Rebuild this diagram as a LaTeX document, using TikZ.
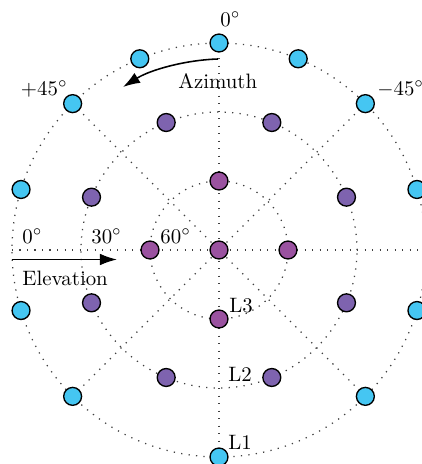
\documentclass[tikz,border=0pt]{standalone}
\usetikzlibrary{arrows.meta,backgrounds}
\definecolor{cyanN}{HTML}{45C6F2}
\definecolor{violN}{HTML}{7E63AF}
\definecolor{magN}{HTML}{9A52A0}
\begin{document}
\begin{tikzpicture}[x=0.48pt,y=0.48pt,
  dotnode/.style={circle,draw=black,line width=0.65pt,minimum size=8.6pt,inner sep=0pt},
  outerN/.style={dotnode,fill=cyanN},
  midN/.style={dotnode,fill=violN},
  innerN/.style={dotnode,fill=magN},
  gridline/.style={dash pattern=on 0.6pt off 3pt,line width=0.6pt,black!75},
  arr/.style={line width=0.75pt,-{Latex[length=8.2pt,width=5.6pt]}},
  lbl/.style={inner sep=0pt,anchor=base west},
  lblr/.style={inner sep=0pt,anchor=base east}]
\useasboundingbox (0,0) rectangle (422,464);
\clip (0,0) rectangle (422,464);
\coordinate (C) at (219,214);
% nodes
\node[innerN] (c0) at (C) {};
\foreach \a/\n in {0/i1,90/i2,180/i3,270/i4}
  \node[innerN] (\n) at ([shift={(\a:69)}]C) {};
\foreach \a/\n in {22.5/m1,67.5/m2,112.5/m3,157.5/m4,202.5/m5,247.5/m6,292.5/m7,337.5/m8}
  \node[midN] (\n) at ([shift={(\a:138)}]C) {};
\foreach \a/\n in {90/oT,67.5/oR1,112.5/oL1,45/oR2,135/oL2,17/oR3,163/oL3,-17/oR4,197/oL4,-45/oR5,225/oL5,270/oB}
  \node[outerN] (\n) at ([shift={(\a:207)}]C) {};
\coordinate (hl) at ([shift={(180:207)}]C);
\coordinate (hr) at ([shift={(0:207)}]C);
% grid on background
\begin{scope}[on background layer]
  \draw[gridline] (C) circle[radius=207];
  \draw[gridline] (C) circle[radius=138];
  \draw[gridline] (C) circle[radius=69];
  \draw[gridline] (hl) -- (hr);
  \draw[gridline] (oT.center) -- (oB.center);
  \draw[gridline] (oR2.center) -- (oL5.center);
  \draw[gridline] (oL2.center) -- (oR5.center);
\end{scope}
% azimuth
\coordinate (az1) at (218,405);
\coordinate (az2) at (123,377);
\draw[arr] (az1) .. controls (185,404) and (150,394) .. (az2);
\node[lbl] (azl) at (178,376) {Azimuth};
\node[lbl] (t0) at (220,438) {$0^\circ$};
\node[lblr] (tp45) at (68,369) {$+45^\circ$};
\node[lbl] (tm45) at (377,369) {$-45^\circ$};
% elevation
\coordinate (e1) at (12,204.5);
\coordinate (e2) at (117,204.5);
\draw[arr] (e1) -- (e2);
\node[lbl] (el) at (22,178.5) {Elevation};
\node[lbl] (e0) at (22,221) {$0^\circ$};
\node[lbl] (e30) at (91,221) {$30^\circ$};
\node[lbl] (e60) at (160,221) {$60^\circ$};
% level labels
\node[lbl] (L3) at (229,152) {L3};
\node[lbl] (L2) at (228,83) {L2};
\node[lbl] (L1) at (228,14) {L1};
\end{tikzpicture}
\end{document}
